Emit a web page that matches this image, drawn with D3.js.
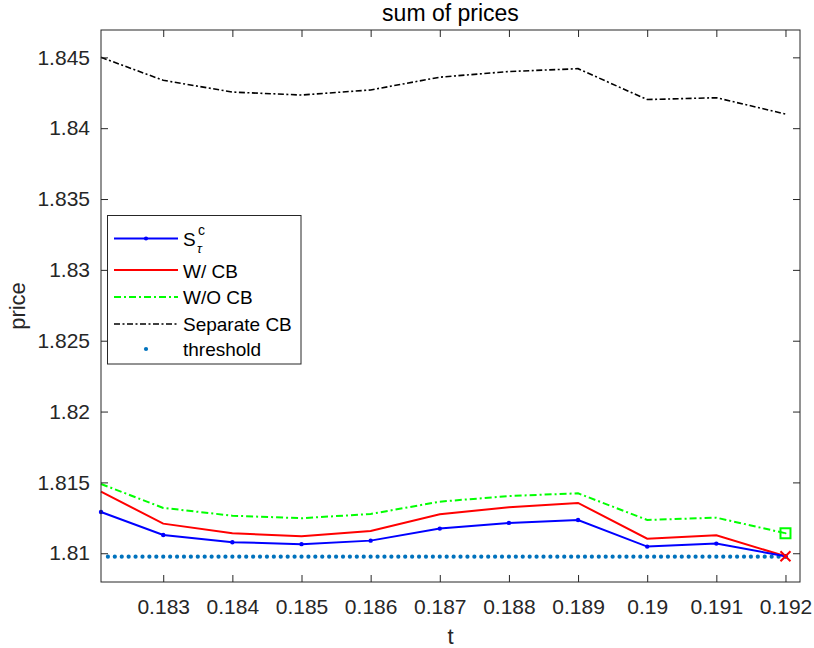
<!DOCTYPE html>
<html>
<head>
<meta charset="utf-8">
<script src="https://cdn.jsdelivr.net/npm/d3@7"></script>
<style>
  body { margin: 0; background: #fff; }
  text { font-family: "Liberation Sans", Arial, sans-serif; }
</style>
</head>
<body>
<div id="chart"></div>
<script>
var w = 814, h = 648;

// data
var tValues = [0.1821, 0.183, 0.184, 0.185, 0.186, 0.187, 0.188, 0.189, 0.19, 0.191, 0.192];
var sTau = [1.81291, 1.81129, 1.81078, 1.81064, 1.81089, 1.81174, 1.81214, 1.81235, 1.81047, 1.81068, 1.80979];
var withCB = [1.81435, 1.81209, 1.81141, 1.8112, 1.81157, 1.81275, 1.81325, 1.81355, 1.81103, 1.81127, 1.80979];
var withoutCB = [1.81489, 1.8132, 1.81265, 1.81247, 1.81277, 1.81364, 1.81404, 1.81423, 1.81235, 1.81251, 1.81141];
var separateCB = [1.8450, 1.84338, 1.84255, 1.84234, 1.8427, 1.8436, 1.8440, 1.8442, 1.84202, 1.84215, 1.8410];
var threshold = 1.80976;
var xTicks = [0.183, 0.184, 0.185, 0.186, 0.187, 0.188, 0.189, 0.19, 0.191, 0.192];
var yTicks = [1.81, 1.815, 1.82, 1.825, 1.83, 1.835, 1.84, 1.845];

var m = { left: 101, top: 30, right: 800, bottom: 582 };
var axisColor = "#262626";

var svg = d3.select("#chart").append("svg").attr("width", w).attr("height", h);

var x = d3.scaleLinear().domain([0.1821, 0.19221]).range([m.left, m.right]);
var y = d3.scaleLinear().domain([1.80797, 1.84693]).range([m.bottom, m.top]);

// threshold grid of t values (one dot every 0.0001)
var tGrid = d3.range(18220, 19201).filter(function (v) { return v % 10 === 0; }).map(function (v) { return v / 100000; });

var line = d3.line().x(function (d) { return x(d[0]); }).y(function (d) { return y(d[1]); });
function pairs(vals) { return tValues.map(function (t, i) { return [t, vals[i]]; }); }

// threshold dots
svg.append("g").selectAll("circle").data(tGrid).enter().append("circle")
    .attr("cx", function (d) { return x(d); })
    .attr("cy", y(threshold))
    .attr("r", 2.1)
    .attr("fill", "#0072BD");

// series lines
svg.append("path").datum(pairs(separateCB)).attr("d", line)
    .attr("fill", "none").attr("stroke", "#000").attr("stroke-width", 1.6)
    .attr("stroke-dasharray", "6,2.5,2,2.5");
svg.append("path").datum(pairs(withoutCB)).attr("d", line)
    .attr("fill", "none").attr("stroke", "#00ff00").attr("stroke-width", 2)
    .attr("stroke-dasharray", "7,3,2,3");
svg.append("path").datum(pairs(withCB)).attr("d", line)
    .attr("fill", "none").attr("stroke", "#ff0000").attr("stroke-width", 2);
svg.append("path").datum(pairs(sTau)).attr("d", line)
    .attr("fill", "none").attr("stroke", "#0000ff").attr("stroke-width", 2);
svg.append("g").selectAll("circle").data(pairs(sTau)).enter().append("circle")
    .attr("cx", function (d) { return x(d[0]); })
    .attr("cy", function (d) { return y(d[1]); })
    .attr("r", 2.2).attr("fill", "#0000ff");

// end markers
var last = tValues.length - 1;
var sx = x(tValues[last]), sy = y(withoutCB[last]);
svg.append("rect").attr("x", sx - 5).attr("y", sy - 5).attr("width", 10).attr("height", 10)
    .attr("fill", "none").attr("stroke", "#00ff00").attr("stroke-width", 2);
svg.append("circle").attr("cx", sx).attr("cy", sy).attr("r", 1).attr("fill", "#00ff00");
var cx = x(tValues[last]), cy = y(withCB[last]), c = 5;
svg.append("path").attr("d", "M" + (cx - c) + "," + (cy - c) + "L" + (cx + c) + "," + (cy + c) +
    "M" + (cx - c) + "," + (cy + c) + "L" + (cx + c) + "," + (cy - c))
    .attr("stroke", "#ff0000").attr("stroke-width", 2);

// axes box with inward ticks
var tickLen = 7;
svg.append("rect").attr("x", m.left).attr("y", m.top)
    .attr("width", m.right - m.left).attr("height", m.bottom - m.top)
    .attr("fill", "none").attr("stroke", axisColor).attr("stroke-width", 1);

var fmt = function (d) { return String(+d.toFixed(3)); };
var xAxisB = d3.axisBottom(x).tickValues(xTicks).tickSizeInner(-tickLen).tickSizeOuter(0)
    .tickPadding(17).tickFormat(fmt);
var gxb = svg.append("g").attr("transform", "translate(0," + m.bottom + ")").call(xAxisB);
var xAxisT = d3.axisTop(x).tickValues(xTicks).tickSizeInner(-tickLen).tickSizeOuter(0).tickFormat("");
var gxt = svg.append("g").attr("transform", "translate(0," + m.top + ")").call(xAxisT);
var yAxisL = d3.axisLeft(y).tickValues(yTicks).tickSizeInner(-tickLen).tickSizeOuter(0)
    .tickPadding(11).tickFormat(fmt);
var gyl = svg.append("g").attr("transform", "translate(" + m.left + ",0)").call(yAxisL);
var yAxisR = d3.axisRight(y).tickValues(yTicks).tickSizeInner(-tickLen).tickSizeOuter(0).tickFormat("");
var gyr = svg.append("g").attr("transform", "translate(" + m.right + ",0)").call(yAxisR);

[gxb, gxt, gyl, gyr].forEach(function (g) {
    g.select(".domain").remove();
    g.selectAll("line").attr("stroke", axisColor);
    g.selectAll("text").attr("fill", axisColor).style("font-size", "21px")
        .style("font-family", "'Liberation Sans', Arial, sans-serif");
});

// titles
svg.append("text").attr("x", (m.left + m.right) / 2).attr("y", 21)
    .attr("text-anchor", "middle").attr("fill", "#000").style("font-size", "23px").text("sum of prices");
svg.append("text").attr("x", (m.left + m.right) / 2).attr("y", 644)
    .attr("text-anchor", "middle").attr("fill", axisColor).style("font-size", "22px").text("t");
svg.append("text").attr("transform", "translate(25," + ((m.top + m.bottom) / 2) + ") rotate(-90)")
    .attr("text-anchor", "middle").attr("fill", axisColor).style("font-size", "22px").text("price");

// legend
var legend = svg.append("g");
legend.append("rect").attr("x", 107.5).attr("y", 215.5).attr("width", 193.5).attr("height", 148.5)
    .attr("fill", "#fff").attr("stroke", axisColor).attr("stroke-width", 1);

var legendItems = [
    { label: "S", color: "#0000ff", dash: null, y: 238.5, ty: 245.5, marker: "dot" },
    { label: "W/ CB", color: "#ff0000", dash: null, y: 270, ty: 278 },
    { label: "W/O CB", color: "#00ff00", dash: "7,3,2,3", y: 297, ty: 304 },
    { label: "Separate CB", color: "#000", dash: "6,2.5,2,2.5", y: 324, ty: 331, width: 1.6 },
    { label: "threshold", color: "#0072BD", dash: null, y: 349, ty: 356, marker: "thr" }
];
legendItems.forEach(function (d) {
    if (d.marker !== "thr") {
        legend.append("line").attr("x1", 114).attr("x2", 178).attr("y1", d.y).attr("y2", d.y)
            .attr("stroke", d.color).attr("stroke-width", d.width || 2)
            .attr("stroke-dasharray", d.dash);
    }
    if (d.marker) {
        legend.append("circle").attr("cx", 146).attr("cy", d.y).attr("r", 2.1).attr("fill", d.color);
    }
    legend.append("text").attr("x", 183).attr("y", d.ty)
        .attr("fill", "#000").style("font-size", "19px").text(d.label);
});
// superscript / subscript on S
legend.append("text").attr("x", 198).attr("y", 235).attr("fill", "#000").style("font-size", "14px").text("c");
legend.append("text").attr("x", 197).attr("y", 253).attr("fill", "#000").style("font-size", "13px")
    .style("font-style", "italic").text("τ");
</script>
</body>
</html>
